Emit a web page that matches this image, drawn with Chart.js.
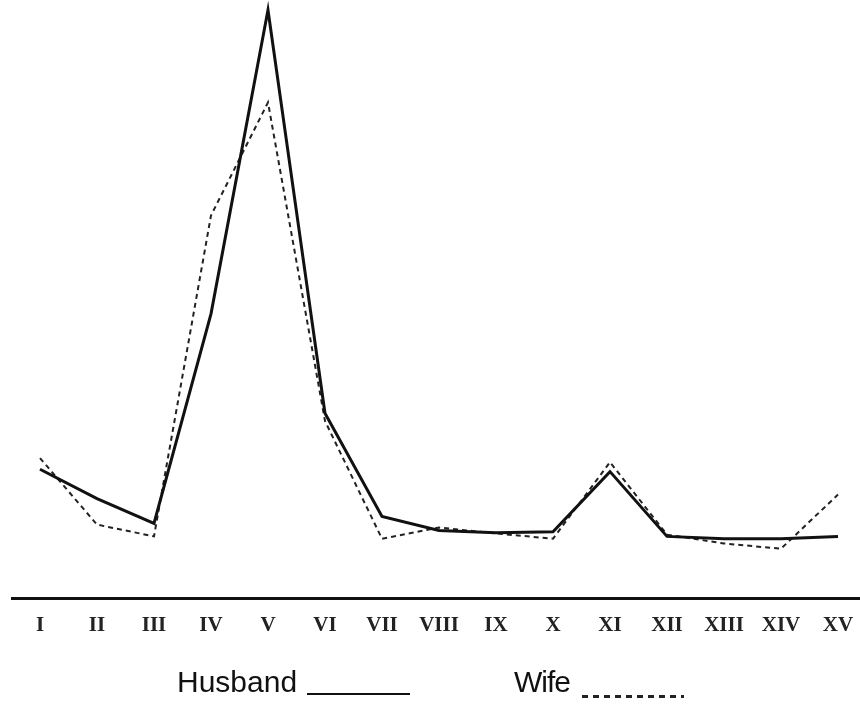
<!DOCTYPE html>
<html>
<head>
<meta charset="utf-8">
<script src="https://cdn.jsdelivr.net/npm/chart.js@4/dist/chart.umd.min.js"></script>
<style>
    body { margin: 0; background: #fff; }
    #caja { position: relative; width: 860px; height: 706px; }
    .leyenda { position: absolute; top: 667px; font-family: "Liberation Sans", Arial, sans-serif; font-size: 30px; line-height: 1; color: #111; }
    .linea { position: absolute; }
</style>
</head>
<body>
<div id="caja">
    <canvas id="chart1" width="860" height="706"></canvas>
    <span class="leyenda" style="left:177px">Husband</span>
    <div class="linea" style="left:307px; top:693px; width:103px; height:2px; background:#111;"></div>
    <span class="leyenda" style="left:514px; letter-spacing:-1px">Wife</span>
    <div class="linea" style="left:582px; top:695px; width:102px; height:3px; background:repeating-linear-gradient(90deg, #222 0 6px, transparent 6px 11px);"></div>
</div>
<script>
    // etapas (eje x)
    const etapas = ['I', 'II', 'III', 'IV', 'V', 'VI', 'VII', 'VIII', 'IX', 'X', 'XI', 'XII', 'XIII', 'XIV', 'XV'];

    // valores (escala relativa, pico = 100)
    const husband = [22.0, 17.0, 12.8, 48.4, 100, 31.5, 14.0, 11.6, 11.2, 11.4, 21.6, 10.6, 10.2, 10.2, 10.6];
    const wife = [23.9, 12.6, 10.6, 65.1, 84.3, 30.2, 10.2, 12.1, 11.1, 10.2, 23.2, 10.9, 9.4, 8.5, 17.7];

    var puntosH = [];
    var puntosW = [];
    for (var i = 0; i < etapas.length; i++) {
        puntosH.push({ x: i, y: husband[i] })
        puntosW.push({ x: i, y: wife[i] })
    }

    const dat = {
        datasets: [{
            label: 'Husband',
            data: puntosH,
            borderColor: '#111',
            borderWidth: 3,
            pointRadius: 0,
            tension: 0,
            clip: false
        }, {
            label: 'Wife',
            data: puntosW,
            borderColor: '#222',
            borderWidth: 2,
            borderDash: [5, 4],
            pointRadius: 0,
            tension: 0,
            clip: false
        }]
    };

    const config = {
        type: 'line',
        data: dat,
        options: {
            responsive: false,
            animation: false,
            layout: {
                padding: { top: 10, left: 12, right: 0, bottom: 54 }
            },
            plugins: {
                legend: { display: false },
                tooltip: { enabled: false }
            },
            scales: {
                x: {
                    type: 'linear',
                    min: -0.491,
                    max: 14.386,
                    grid: { display: false, drawTicks: false },
                    border: { display: true, color: '#111', width: 3 },
                    afterBuildTicks: function (scale) {
                        scale.ticks = etapas.map(function (e, i) { return { value: i }; });
                    },
                    afterFit: function (scale) {
                        // que las etiquetas no encojan el area
                        scale.paddingLeft = 0;
                        scale.paddingRight = 0;
                    },
                    ticks: {
                        autoSkip: false,
                        maxRotation: 0,
                        padding: 14,
                        color: '#222',
                        font: { family: '"Liberation Serif", "Times New Roman", serif', size: 21, weight: 'bold' },
                        callback: function (v) { return etapas[v]; }
                    }
                },
                y: {
                    display: false,
                    min: 0,
                    max: 100
                }
            }
        }
    };

    const myChart = new Chart(
        document.getElementById('chart1'),
        config
    );
</script>
</body>
</html>
